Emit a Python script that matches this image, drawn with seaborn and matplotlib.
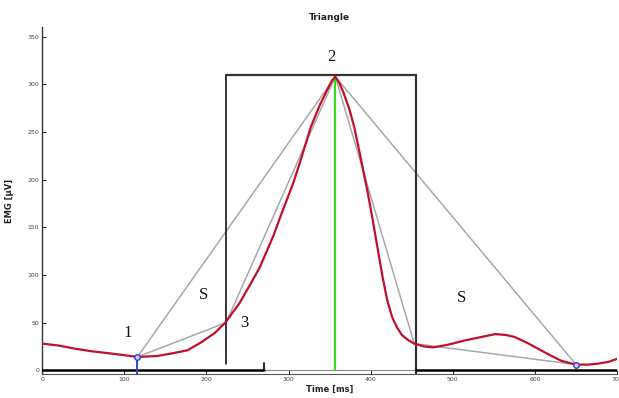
import pandas as pd
import matplotlib.pyplot as plt
import seaborn as sns

# =========================
# DATA
# =========================
emg_time = [0, 20, 38, 60, 80, 99, 116, 140, 160, 177, 193, 210, 223, 240, 254,
            265, 274, 282, 290, 298, 306, 315, 327, 338, 347, 353, 357, 362, 367,
            374, 380, 388, 396, 402, 408, 414, 420, 426, 432, 438, 445, 453, 465,
            476, 495, 513, 535, 552, 565, 575, 590, 603, 618, 632, 645, 652, 665,
            677, 690, 700]
emg_value = [28, 26, 23, 20, 18, 16, 14, 15, 18, 21, 29, 39, 50, 70, 91,
             108, 126, 142, 161, 179, 197, 221, 255, 278, 294, 304, 308, 301, 291,
             274, 255, 222, 188, 160, 130, 100, 74, 56, 45, 37, 32, 28, 25,
             24, 27, 31, 35, 38, 37, 35, 29, 23, 16, 10, 7, 6, 6,
             7, 9, 12]

# key points: onset (1), knee (3), peak (2), offset, end
onset = (116, 14)
knee = (224, 50)
peak = (357, 308)
offset = (453, 28)
end = (650, 6)

# rectangle around the peak
rect_left, rect_right, rect_top = 224, 455, 310

labels = ["1", "S", "3", "2", "S"]
label_x = [104, 196, 246, 352, 511]
label_y = [39, 79, 50, 329, 76]

x_ticks = [0, 100, 200, 300, 400, 500, 600, 700]
y_ticks = [0, 50, 100, 150, 200, 250, 300, 350]

df = pd.DataFrame({"time": emg_time, "emg": emg_value})

# =========================
# PLOT
# =========================
sns.set_style("white")
plt.rcParams["font.family"] = ["DejaVu Sans"]

fig = plt.figure(figsize=(6.19, 3.98), dpi=100)
ax = fig.add_axes([0.068, 0.060, 0.929, 0.872])

# triangle lines (gray)
gray = "#a8a8a8"
for a, b in [(onset, peak), (onset, knee), (knee, peak),
             (peak, offset), (offset, end), (peak, end)]:
    ax.plot([a[0], b[0]], [a[1], b[1]], color=gray, lw=1.1, zorder=2)

# rectangle
ax.plot([rect_left, rect_left], [7, rect_top], color="black", lw=1.1, zorder=3)
ax.plot([rect_left, rect_right], [rect_top, rect_top], color="#333333", lw=1.6, zorder=3)
ax.plot([rect_right, rect_right], [-4, rect_top], color="#333333", lw=1.6, zorder=3)

# green peak line
ax.plot([peak[0], peak[0]], [0, peak[1]], color="#33dd22", lw=1.6, zorder=3)

# EMG curve
sns.lineplot(data=df, x="time", y="emg", sort=False, color="#c0102a", lw=1.6,
             ax=ax, zorder=4)

# blue markers
ax.plot([onset[0], onset[0]], [-4, onset[1]], color="#3344cc", lw=1.4, zorder=5)
ax.plot([onset[0], end[0]], [onset[1], end[1]], ls="none", marker="o", ms=4,
        mfc="#ccccff", mec="#3344cc", mew=1, zorder=6)

# baseline segments
ax.plot([0, 700], [0, 0], color="#888888", lw=0.8, zorder=1)
ax.plot([0, 270], [0, 0], color="black", lw=1.8, zorder=3)
ax.plot([270, 270], [0, 8], color="black", lw=1.2, zorder=3)
ax.plot([rect_right, 700], [0, 0], color="black", lw=1.8, zorder=3)

# text labels
for t, x, y in zip(labels, label_x, label_y):
    ax.text(x, y, t, fontsize=12, family=["Liberation Serif", "DejaVu Serif"],
            ha="center", va="center", color="#111111")

ax.set_xlim(0, 700)
ax.set_ylim(-4, 360)
ax.set_xticks(x_ticks)
ax.set_yticks(y_ticks)
ax.tick_params(direction="in", length=3, labelsize=4.5, labelcolor="#444444",
               color="#333333", pad=2, bottom=True, left=True)

for side in ["top", "right"]:
    ax.spines[side].set_visible(False)
ax.spines["left"].set_color("#333333")
ax.spines["bottom"].set_color("#555555")
ax.spines["left"].set_linewidth(1.0)
ax.spines["bottom"].set_linewidth(0.8)

ax.set_title("Triangle", fontsize=6.5, fontweight="bold", pad=5, color="#222222")
ax.set_xlabel("Time [ms]", fontsize=6, fontweight="bold", labelpad=2, color="#222222")
ax.set_ylabel("EMG [\u00b5V]", fontsize=6, fontweight="bold", labelpad=10, color="#222222")

plt.savefig("out.png", dpi=100)
